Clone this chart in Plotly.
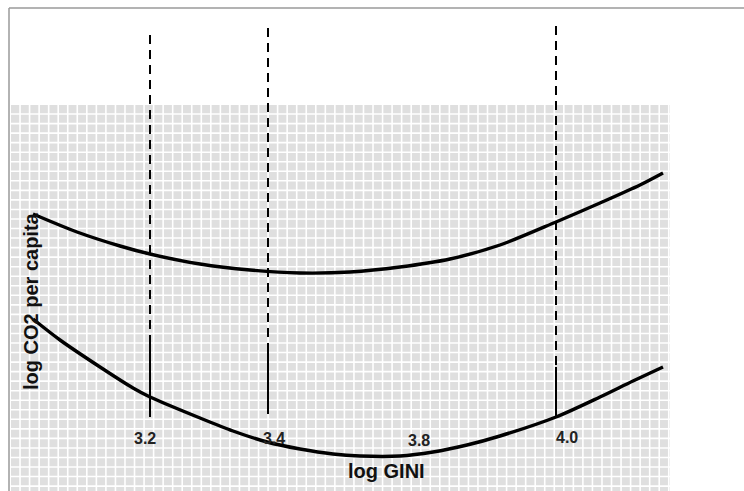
import plotly.graph_objects as go

# ---- schematic data (diagram units: x to the right, y downward) ----
upper_x = [33, 77, 120, 150, 200, 250, 300, 350, 400, 450, 500, 556, 600, 640, 663]
upper_y = [214, 232, 246, 254, 264, 270, 273, 272, 267, 259, 245, 222, 203, 185, 173]

lower_x = [33, 60, 100, 133, 150, 200, 233, 267, 300, 333, 360, 400, 433, 467, 500, 556, 600, 633, 663]
lower_y = [319, 340, 367, 388, 397, 418, 431, 442, 449, 454, 456, 456, 452, 445, 436, 417, 397, 381, 367]

marker_x = [150, 268, 556]
dash_top = [35, 28, 26]
solid_top = [343, 347, 367]
solid_bottom = [417, 414, 417]

tick_labels = ["3.2", "3.4", "3.8", "4.0"]
tick_x = [145, 274, 419, 567]
tick_y = [438, 438, 440, 437]

W, H = 744, 491
fig = go.Figure()

# grid background (graph-paper look)
gx0, gx1, gy0, gy1, step = 11, 670, 105, H, 9.54
fig.add_shape(type="rect", x0=gx0, x1=gx1, y0=gy0, y1=gy1, fillcolor="#dfdfdf",
              line=dict(width=0), layer="below")
gxs, gys = [], []
k = 1
while gx0 + k * step < gx1:
    xv = gx0 + k * step - 0.5
    gxs += [xv, xv, None]
    gys += [gy0, gy1, None]
    k += 1
k = 1
while gy0 + k * step < gy1:
    yv = gy0 + k * step - 0.5
    gxs += [gx0, gx1, None]
    gys += [yv, yv, None]
    k += 1
fig.add_trace(go.Scatter(x=gxs, y=gys, mode="lines", line=dict(color="white", width=1.6),
                         hoverinfo="skip", showlegend=False))

# frame lines
fig.add_shape(type="line", x0=9, x1=9, y0=8, y1=H, line=dict(color="#9a9a9a", width=1.5))
fig.add_shape(type="line", x0=9, x1=W, y0=8, y1=8, line=dict(color="#9a9a9a", width=1.5))

# vertical markers: dashed part then solid part
for xm, t, s, b in zip(marker_x, dash_top, solid_top, solid_bottom):
    fig.add_trace(go.Scatter(x=[xm, xm], y=[t, s], mode="lines",
                             line=dict(color="black", width=2, dash="9px,6px"),
                             hoverinfo="skip", showlegend=False))
    fig.add_trace(go.Scatter(x=[xm, xm], y=[s, b], mode="lines",
                             line=dict(color="black", width=2),
                             hoverinfo="skip", showlegend=False))

# curves
fig.add_trace(go.Scatter(x=upper_x, y=upper_y, mode="lines",
                         line=dict(color="black", width=3.4, shape="spline", smoothing=0.8),
                         showlegend=False))
fig.add_trace(go.Scatter(x=lower_x, y=lower_y, mode="lines",
                         line=dict(color="black", width=3.4, shape="spline", smoothing=0.8),
                         showlegend=False))

# tick labels
for lab, tx, ty in zip(tick_labels, tick_x, tick_y):
    fig.add_annotation(x=tx, y=ty, text=lab, showarrow=False,
                       font=dict(family="Liberation Sans", size=16, color="#222", weight="bold"))

# axis titles
fig.add_annotation(x=386, y=471, text="log GINI", showarrow=False,
                   font=dict(family="Liberation Sans", size=20, color="#111", weight="bold"))
fig.add_annotation(x=31, y=301, text="log CO2 per capita", showarrow=False, textangle=-90,
                   font=dict(family="Liberation Sans", size=20, color="#111", weight="bold"))

fig.update_xaxes(range=[0, W], visible=False, fixedrange=True)
fig.update_yaxes(range=[H, 0], visible=False, fixedrange=True)
fig.update_layout(width=W, height=H, margin=dict(l=0, r=0, t=0, b=0),
                  paper_bgcolor="white", plot_bgcolor="white")

fig.write_html("out.html", config={"displayModeBar": False},
               post_script="document.body.style.margin='0';document.body.style.overflow='hidden';")
